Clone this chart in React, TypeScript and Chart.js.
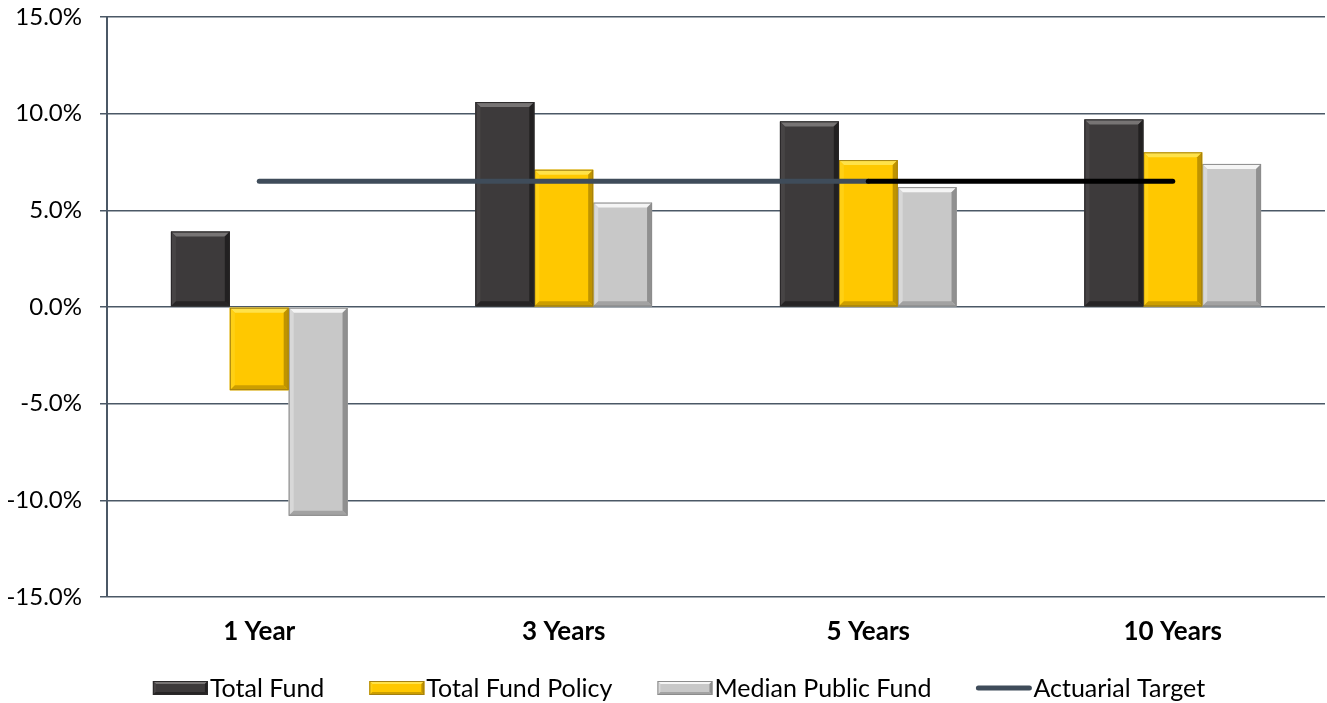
import React, { useEffect, useRef } from "react";
import { Chart, registerables } from "chart.js";

Chart.register(...registerables);

const categories = ["1 Year", "3 Years", "5 Years", "10 Years"];
const totalFund = [3.9, 10.6, 9.6, 9.7];
const totalFundPolicy = [-4.3, 7.1, 7.6, 8.0];
const medianPublicFund = [-10.8, 5.4, 6.2, 7.4];
const actuarialTarget = [6.5, 6.5, 6.5, 6.5];
const seriesNames = ["Total Fund", "Total Fund Policy", "Median Public Fund", "Actuarial Target"];

const FONT = "Lato, 'Open Sans', sans-serif";
const GRID = "#4b5866";
const LINE = "#3f4c5a";

const bevels: Record<string, { base: string; top: string; left: string; right: string; bottom: string; edge: string }> = {
  dark: { base: "#3d3a3b", top: "#777474", left: "#474445", right: "#222021", bottom: "#262425", edge: "#2a2829" },
  yellow: { base: "#ffc800", top: "#ffe24a", left: "#ffd014", right: "#bf9300", bottom: "#cc9e00", edge: "#a38012" },
  gray: { base: "#c8c8c8", top: "#f5f5f5", left: "#d8d8d8", right: "#909090", bottom: "#a2a2a2", edge: "#8c8c8c" },
};
const bevelKeys = ["dark", "yellow", "gray"];

function drawBevelRect(ctx: CanvasRenderingContext2D, l: number, t: number, r: number, bm: number, c: any, b: number) {
  ctx.save();
  ctx.fillStyle = c.base;
  ctx.fillRect(l, t, r - l, bm - t);
  const poly = (pts: number[][], col: string) => {
    ctx.beginPath();
    ctx.moveTo(pts[0][0], pts[0][1]);
    for (let i = 1; i < pts.length; i++) ctx.lineTo(pts[i][0], pts[i][1]);
    ctx.closePath();
    ctx.fillStyle = col;
    ctx.fill();
  };
  const bb = Math.min(b, (r - l) / 2, (bm - t) / 2);
  poly([[l, t], [r, t], [r - bb, t + bb], [l + bb, t + bb]], c.top);
  poly([[l, t], [l + bb, t + bb], [l + bb, bm - bb], [l, bm]], c.left);
  poly([[r, t], [r, bm], [r - bb, bm - bb], [r - bb, t + bb]], c.right);
  poly([[l, bm], [l + bb, bm - bb], [r - bb, bm - bb], [r, bm]], c.bottom);
  ctx.strokeStyle = c.edge;
  ctx.lineWidth = 1;
  ctx.strokeRect(l + 0.5, t + 0.5, r - l - 1, bm - t - 1);
  ctx.restore();
}

const bevelPlugin = {
  id: "bevel",
  afterDatasetDraw(chart: any, args: any) {
    const i = args.index;
    if (i > 2) return;
    const ctx = chart.ctx;
    const meta = chart.getDatasetMeta(i);
    meta.data.forEach((el: any) => {
      const p = el.getProps(["x", "y", "base", "width"], true);
      const l = p.x - p.width / 2;
      const r = p.x + p.width / 2;
      const t = Math.min(p.y, p.base);
      const bm = Math.max(p.y, p.base);
      drawBevelRect(ctx, l, t, r, bm, bevels[bevelKeys[i]], 5);
    });
  },
};

const legendPlugin = {
  id: "customLegend",
  afterDraw(chart: any) {
    const ctx = chart.ctx as CanvasRenderingContext2D;
    ctx.save();
    ctx.font = `25px ${FONT}`;
    ctx.textBaseline = "middle";
    const boxW = 55;
    const boxH = 14;
    const gapText = 2;
    const gapItem = 45;
    const widths = seriesNames.map((n) => boxW + gapText + ctx.measureText(n).width);
    const total = widths.reduce((a, b) => a + b, 0) + gapItem * (widths.length - 1);
    let x = 679 - total / 2;
    const y = 688;
    seriesNames.forEach((n, i) => {
      if (i < 3) {
        drawBevelRect(ctx, x, y - boxH / 2, x + boxW, y + boxH / 2, bevels[bevelKeys[i]], 3);
      } else {
        ctx.strokeStyle = LINE;
        ctx.lineWidth = 5;
        ctx.lineCap = "round";
        ctx.beginPath();
        ctx.moveTo(x + 2, y);
        ctx.lineTo(x + boxW - 2, y);
        ctx.stroke();
      }
      ctx.fillStyle = "#000";
      ctx.fillText(n, x + boxW + gapText, y + 1);
      x += widths[i] + gapItem;
    });
    ctx.restore();
  },
};

export default function App() {
  const ref = useRef<HTMLCanvasElement>(null);
  useEffect(() => {
    document.body.style.margin = "0";
    const chart = new Chart(ref.current!, {
      type: "bar",
      data: {
        labels: categories,
        datasets: [
          { label: seriesNames[0], data: totalFund, backgroundColor: bevels.dark.base, order: 2 },
          { label: seriesNames[1], data: totalFundPolicy, backgroundColor: bevels.yellow.base, order: 2 },
          { label: seriesNames[2], data: medianPublicFund, backgroundColor: bevels.gray.base, order: 2 },
          {
            type: "line",
            label: seriesNames[3],
            data: actuarialTarget,
            borderColor: LINE,
            borderWidth: 5,
            borderCapStyle: "round",
            pointRadius: 0,
            order: 1,
            segment: { borderColor: (c: any) => (c.p0DataIndex === 2 ? "#000000" : LINE) },
          } as any,
        ],
      },
      options: {
        animation: false,
        responsive: false,
        maintainAspectRatio: false,
        layout: { padding: { top: 17, right: 2, left: 0, bottom: 0 } },
        datasets: { bar: { categoryPercentage: 0.58, barPercentage: 1 } } as any,
        plugins: { legend: { display: false }, tooltip: { enabled: false } },
        scales: {
          x: {
            grid: { display: false },
            border: { display: false },
            ticks: { font: { family: FONT, size: 26, weight: "bold" }, color: "#000", padding: 11 },
            afterFit: (s: any) => { s.height = 106; },
          },
          y: {
            min: -15,
            max: 15,
            ticks: {
              stepSize: 5,
              font: { family: FONT, size: 24 },
              color: "#000",
              padding: 18,
              callback: (v: any) => Number(v).toFixed(1) + "%",
            },
            grid: { color: GRID, lineWidth: 1.5, tickLength: 7 },
            border: { display: true, color: GRID, width: 2 },
            afterFit: (s: any) => { s.width = 107; s.paddingTop = 0; s.paddingBottom = 0; },
          },
        },
      },
      plugins: [bevelPlugin, legendPlugin],
    });
    return () => chart.destroy();
  }, []);
  return (
    <div style={{ width: 1327, height: 703 }}>
      <canvas ref={ref} width={1327} height={703} style={{ display: "block" }} />
    </div>
  );
}
